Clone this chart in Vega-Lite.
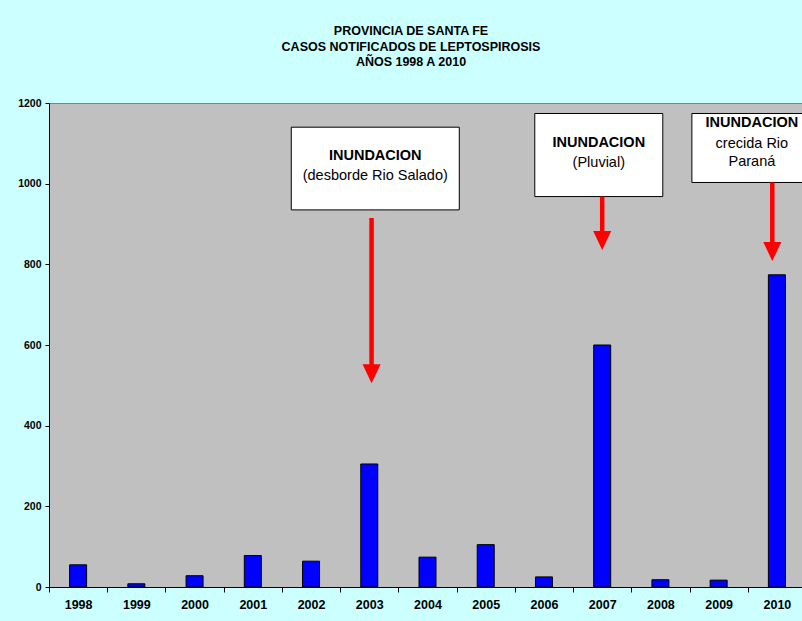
{
  "$schema": "https://vega.github.io/schema/vega-lite/v6.json",
  "width": 753,
  "height": 484,
  "autosize": {"type": "none"},
  "padding": {"left": 49, "top": 103, "right": 0, "bottom": 34},
  "background": "#CCFFFF",
  "title": {
    "text": ["PROVINCIA DE SANTA FE", "CASOS NOTIFICADOS DE LEPTOSPIROSIS", "AÑOS 1998 A 2010"],
    "font": "Liberation Sans",
    "fontSize": 12.5,
    "fontWeight": "bold",
    "lineHeight": 15.8,
    "anchor": "middle",
    "frame": "group",
    "dx": -14.5,
    "offset": 29,
    "color": "black"
  },
  "config": {
    "view": {"fill": "#C0C0C0", "stroke": "#808080"},
    "font": "Liberation Sans"
  },
  "datasets": {
    "cases": [
      {"year": 1998, "cases": 55},
      {"year": 1999, "cases": 8},
      {"year": 2000, "cases": 28},
      {"year": 2001, "cases": 78},
      {"year": 2002, "cases": 64},
      {"year": 2003, "cases": 305},
      {"year": 2004, "cases": 74},
      {"year": 2005, "cases": 105},
      {"year": 2006, "cases": 25},
      {"year": 2007, "cases": 600},
      {"year": 2008, "cases": 18},
      {"year": 2009, "cases": 17},
      {"year": 2010, "cases": 774}
    ],
    "notes": [
      {"year": 2003, "bold": "INUNDACION", "detail": "(desborde Rio Salado)", "boxTop": 1140, "boxBottom": 935, "boldY": 1069, "textY": 1019, "arrowFrom": 915, "arrowTo": 550, "headY": 529},
      {"year": 2007, "bold": "INUNDACION", "detail": "(Pluvial)", "boxTop": 1174, "boxBottom": 968, "boldY": 1102, "textY": 1052, "arrowFrom": 968, "arrowTo": 880, "headY": 859},
      {"year": 2010, "bold": "INUNDACION", "detail": "crecida Rio\nParaná", "boxTop": 1174, "boxBottom": 1003, "boldY": 1150, "textY": 1098, "arrowFrom": 1003, "arrowTo": 853, "headY": 832}
    ]
  },
  "layer": [
    {
      "data": {"name": "cases"},
      "mark": {"type": "bar", "size": 17, "fill": "#0000FF", "stroke": "black", "strokeWidth": 1},
      "encoding": {
        "x": {
          "field": "year", "type": "ordinal",
          "scale": {"range": [0, 757], "paddingInner": 0, "paddingOuter": 0},
          "axis": {"title": null, "labelAngle": 0, "labelFont": "Liberation Sans", "labelFontWeight": "bold", "labelFontSize": 12.5, "labelColor": "black", "tickBand": "extent", "tickSize": 5, "tickColor": "black", "domainColor": "black", "labelPadding": 6}
        },
        "y": {
          "field": "cases", "type": "quantitative",
          "scale": {"domain": [0, 1200], "nice": false},
          "axis": {"title": null, "values": [0, 200, 400, 600, 800, 1000, 1200], "format": "d", "grid": false, "labelFont": "Liberation Sans", "labelFontWeight": "bold", "labelFontSize": 10.5, "labelColor": "black", "tickSize": 4, "tickColor": "black", "domainColor": "black", "labelPadding": 4}
        }
      }
    },
    {
      "data": {"name": "notes"}, "transform": [{"filter": "datum.year == 2003"}],
      "mark": {"type": "rect", "width": 168, "xOffset": 6, "fill": "white", "stroke": "black", "strokeWidth": 1},
      "encoding": {"x": {"field": "year", "type": "ordinal"}, "y": {"field": "boxTop", "type": "quantitative"}, "y2": {"field": "boxBottom"}}
    },
    {
      "data": {"name": "notes"}, "transform": [{"filter": "datum.year == 2003"}],
      "mark": {"type": "text", "xOffset": 6, "font": "Liberation Sans", "fontSize": 14.5, "fontWeight": "bold", "color": "black", "align": "center", "baseline": "middle"},
      "encoding": {"x": {"field": "year", "type": "ordinal"}, "y": {"field": "boldY", "type": "quantitative"}, "text": {"field": "bold"}}
    },
    {
      "data": {"name": "notes"}, "transform": [{"filter": "datum.year == 2003"}],
      "mark": {"type": "text", "xOffset": 6, "font": "Liberation Sans", "fontSize": 14.5, "color": "black", "align": "center", "baseline": "middle", "lineBreak": "\n", "lineHeight": 17.5},
      "encoding": {"x": {"field": "year", "type": "ordinal"}, "y": {"field": "textY", "type": "quantitative"}, "text": {"field": "detail"}}
    },
    {
      "data": {"name": "notes"}, "transform": [{"filter": "datum.year == 2003"}],
      "mark": {"type": "rule", "xOffset": 2.3, "color": "#FF0000", "strokeWidth": 4.5},
      "encoding": {"x": {"field": "year", "type": "ordinal"}, "y": {"field": "arrowFrom", "type": "quantitative"}, "y2": {"field": "arrowTo"}}
    },
    {
      "data": {"name": "notes"}, "transform": [{"filter": "datum.year == 2003"}],
      "mark": {"type": "point", "xOffset": 2.3, "shape": "M-0.95,-1L0.95,-1L0,1Z", "size": 361, "filled": true, "color": "#FF0000", "opacity": 1},
      "encoding": {"x": {"field": "year", "type": "ordinal"}, "y": {"field": "headY", "type": "quantitative"}}
    },
    {
      "data": {"name": "notes"}, "transform": [{"filter": "datum.year == 2007"}],
      "mark": {"type": "rect", "width": 128, "xOffset": -3.4, "fill": "white", "stroke": "black", "strokeWidth": 1},
      "encoding": {"x": {"field": "year", "type": "ordinal"}, "y": {"field": "boxTop", "type": "quantitative"}, "y2": {"field": "boxBottom"}}
    },
    {
      "data": {"name": "notes"}, "transform": [{"filter": "datum.year == 2007"}],
      "mark": {"type": "text", "xOffset": -3.4, "font": "Liberation Sans", "fontSize": 14.5, "fontWeight": "bold", "color": "black", "align": "center", "baseline": "middle"},
      "encoding": {"x": {"field": "year", "type": "ordinal"}, "y": {"field": "boldY", "type": "quantitative"}, "text": {"field": "bold"}}
    },
    {
      "data": {"name": "notes"}, "transform": [{"filter": "datum.year == 2007"}],
      "mark": {"type": "text", "xOffset": -3.4, "font": "Liberation Sans", "fontSize": 14.5, "color": "black", "align": "center", "baseline": "middle", "lineBreak": "\n", "lineHeight": 17.5},
      "encoding": {"x": {"field": "year", "type": "ordinal"}, "y": {"field": "textY", "type": "quantitative"}, "text": {"field": "detail"}}
    },
    {
      "data": {"name": "notes"}, "transform": [{"filter": "datum.year == 2007"}],
      "mark": {"type": "rule", "xOffset": 0, "color": "#FF0000", "strokeWidth": 4.5},
      "encoding": {"x": {"field": "year", "type": "ordinal"}, "y": {"field": "arrowFrom", "type": "quantitative"}, "y2": {"field": "arrowTo"}}
    },
    {
      "data": {"name": "notes"}, "transform": [{"filter": "datum.year == 2007"}],
      "mark": {"type": "point", "xOffset": 0, "shape": "M-0.95,-1L0.95,-1L0,1Z", "size": 361, "filled": true, "color": "#FF0000", "opacity": 1},
      "encoding": {"x": {"field": "year", "type": "ordinal"}, "y": {"field": "headY", "type": "quantitative"}}
    },
    {
      "data": {"name": "notes"}, "transform": [{"filter": "datum.year == 2010"}],
      "mark": {"type": "rect", "width": 120, "xOffset": -25, "fill": "white", "stroke": "black", "strokeWidth": 1},
      "encoding": {"x": {"field": "year", "type": "ordinal"}, "y": {"field": "boxTop", "type": "quantitative"}, "y2": {"field": "boxBottom"}}
    },
    {
      "data": {"name": "notes"}, "transform": [{"filter": "datum.year == 2010"}],
      "mark": {"type": "text", "xOffset": -25, "font": "Liberation Sans", "fontSize": 14.5, "fontWeight": "bold", "color": "black", "align": "center", "baseline": "middle"},
      "encoding": {"x": {"field": "year", "type": "ordinal"}, "y": {"field": "boldY", "type": "quantitative"}, "text": {"field": "bold"}}
    },
    {
      "data": {"name": "notes"}, "transform": [{"filter": "datum.year == 2010"}],
      "mark": {"type": "text", "xOffset": -25, "font": "Liberation Sans", "fontSize": 14.5, "color": "black", "align": "center", "baseline": "middle", "lineBreak": "\n", "lineHeight": 17.5},
      "encoding": {"x": {"field": "year", "type": "ordinal"}, "y": {"field": "textY", "type": "quantitative"}, "text": {"field": "detail"}}
    },
    {
      "data": {"name": "notes"}, "transform": [{"filter": "datum.year == 2010"}],
      "mark": {"type": "rule", "xOffset": -4.6, "color": "#FF0000", "strokeWidth": 4.5},
      "encoding": {"x": {"field": "year", "type": "ordinal"}, "y": {"field": "arrowFrom", "type": "quantitative"}, "y2": {"field": "arrowTo"}}
    },
    {
      "data": {"name": "notes"}, "transform": [{"filter": "datum.year == 2010"}],
      "mark": {"type": "point", "xOffset": -4.6, "shape": "M-0.95,-1L0.95,-1L0,1Z", "size": 361, "filled": true, "color": "#FF0000", "opacity": 1},
      "encoding": {"x": {"field": "year", "type": "ordinal"}, "y": {"field": "headY", "type": "quantitative"}}
    }
  ]
}
